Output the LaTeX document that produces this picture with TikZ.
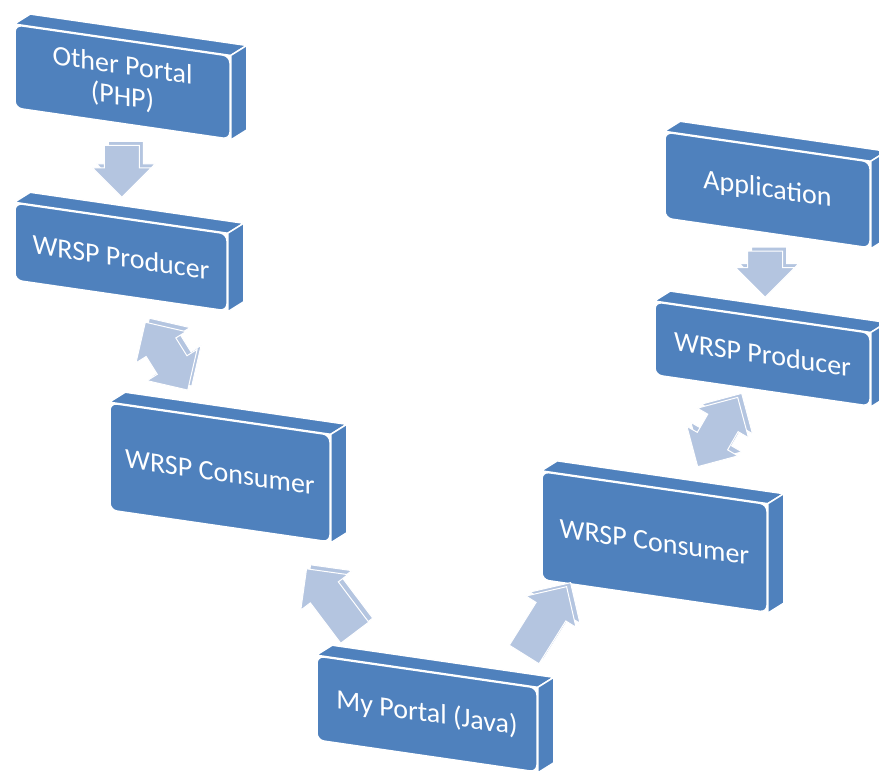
\documentclass[tikz,border=0pt]{standalone}
\usepackage{fontspec}
\setmainfont{Carlito}
\usetikzlibrary{shapes.arrows,shadows}
\definecolor{boxblue}{RGB}{79,129,189}
\definecolor{arrowblue}{RGB}{180,197,224}

\begin{document}
\begin{tikzpicture}[x=1pt,y=-1pt,
  panel/.style={draw=white,line width=1.5pt,fill=boxblue,rounded corners=7pt,yslant=-0.145,
    text=white,font=\fontsize{28}{31}\selectfont,align=center,inner sep=0pt},
  face/.style={draw=white,line width=1.5pt,fill=boxblue,line join=round},
  oneway/.style={single arrow,fill=arrowblue,draw=white,line width=1pt,inner xsep=0pt,inner ysep=17pt,
    minimum height=#1,single arrow head extend=12pt,
    copy shadow={shadow xshift=4pt,shadow yshift=4pt,fill=arrowblue,draw=white,line width=1pt}},
  twoway/.style={double arrow,fill=arrowblue,draw=white,line width=1pt,inner xsep=0pt,inner ysep=17pt,
    minimum height=#1,double arrow head extend=12pt,
    copy shadow={shadow xshift=4pt,shadow yshift=4pt,fill=arrowblue,draw=white,line width=1pt}}]
\useasboundingbox (0,0) rectangle (879,772);

% the boxes
\node[panel,minimum width=215pt,minimum height=83pt] (php) at (122.5,82) {Other Portal\\(PHP)};
\node[panel,minimum width=212pt,minimum height=77pt] (prodL) at (121,257) {WRSP Producer};
\node[panel,minimum width=220pt,minimum height=107pt] (consL) at (220,472.5) {WRSP Consumer};
\node[panel,minimum width=220pt,minimum height=84pt] (java) at (427,714) {My Portal (Java)};
\node[panel,minimum width=225pt,minimum height=108pt] (consR) at (654.5,542) {WRSP Consumer};
\node[panel,minimum width=215pt,minimum height=73pt] (prodR) at (762.5,354) {WRSP Producer};
\node[panel,minimum width=205pt,minimum height=86pt] (app) at (767.5,190) {Application};

% top and side of each box
\foreach \n in {php,prodL,consL,java,consR,prodR,app}{
  \filldraw[face] (\n.north west) -- ++(16,-10) -- ([shift={(16,-10)}]\n.north east) -- (\n.north east) -- cycle;
  \filldraw[face] (\n.north east) -- ++(16,-10) -- ([shift={(16,-10)}]\n.south east) -- (\n.south east) -- cycle;
}

% arrows
\path (php.center) -- node[pos=0.46,rotate=-90,oneway=52pt] {} (prodL.center);
\path (prodL.center) -- node[pos=0.46,rotate=-58,twoway=80pt] {} (consL.center);
\path (java.center) -- node[pos=0.44,rotate=127,oneway=80pt] {} (consL.center);
\path (java.center) -- node[pos=0.5,rotate=58,oneway=80pt] {} (consR.center);
\path (app.center) -- node[pos=0.46,rotate=-90,oneway=46pt] {} (prodR.center);
\path (prodR.center) -- node[pos=0.415,rotate=60,twoway=80pt] {} (consR.center);
\end{tikzpicture}
\end{document}
